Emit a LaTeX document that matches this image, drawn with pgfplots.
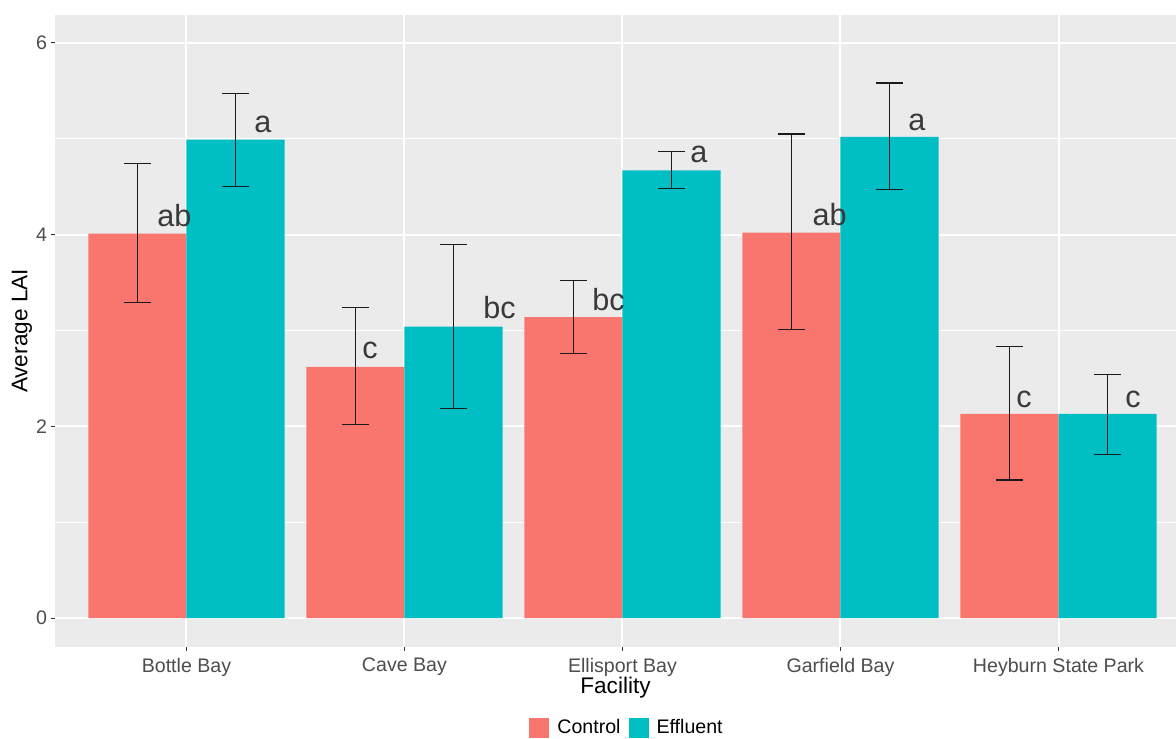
\documentclass[border=0pt]{standalone}
\usepackage{fontspec}
\setmainfont{Liberation Sans}
\usepackage{pgfplots}
\pgfplotsset{compat=1.18}
\usepackage{pgfplotstable}
\usetikzlibrary{calc}

\definecolor{ctrl}{HTML}{F8766D}
\definecolor{effl}{HTML}{00BFC4}
\definecolor{panel}{HTML}{EBEBEB}
\definecolor{gray30}{HTML}{4D4D4D}
\definecolor{gray20}{HTML}{333333}
\definecolor{lettergray}{HTML}{3A3A3A}
\definecolor{errcol}{HTML}{1A1A1A}

% mean LAI with upper / lower error lengths
\pgfplotstableread{
x y ep em
1 4.01 0.73 0.72
2 2.62 0.62 0.60
3 3.14 0.38 0.38
4 4.02 1.03 1.01
5 2.13 0.70 0.69
}\control
\pgfplotstableread{
x y ep em
1 4.99 0.48 0.49
2 3.04 0.86 0.85
3 4.67 0.20 0.19
4 5.02 0.56 0.55
5 2.13 0.41 0.42
}\effluent
% significance letters (left edge, baseline)
\pgfplotstableread{
x y lab
0.865 4.08 ab
1.310 5.06 a
1.805 2.71 c
2.360 3.12 bc
2.860 3.21 bc
3.310 4.75 a
3.870 4.10 ab
4.310 5.09 a
4.805 2.20 c
5.305 2.20 c
}\letters

\begin{document}
\begin{tikzpicture}
\begin{axis}[
  name=ax,
  scale only axis,
  width=560.5pt, height=316pt,
  xmin=0.397, xmax=5.539,
  ymin=-0.30, ymax=6.29,
  axis background/.style={fill=panel},
  axis line style={draw=none},
  xtick={1,2,3,4,5},
  xticklabels={Bottle Bay, Cave Bay, Ellisport Bay, Garfield Bay, Heyburn State Park},
  ytick={0,2,4,6},
  minor ytick={1,3,5},
  grid=both,
  major grid style={white, line width=1pt},
  minor grid style={white, line width=0.5pt},
  minor tick length=0pt,
  tick align=outside,
  xtick pos=bottom, ytick pos=left,
  major tick length=1.8pt,
  tick style={gray20, line width=0.5pt},
  /pgf/number format/assume math mode=true,
  ticklabel style={font=\fontsize{9.8}{11}\selectfont, text=gray30, inner sep=0pt},
  xticklabel style={yshift=-3.5pt},
  yticklabel style={xshift=-2pt},
  xlabel={Facility},
  ylabel={Average LAI},
  every axis x label/.style={at={(axis description cs:0.5,0)}, anchor=north,
    inner sep=0pt, yshift=-15pt, font=\fontsize{11.3}{13}\selectfont},
  every axis y label/.style={at={(axis description cs:0,0.5)}, anchor=center,
    rotate=90, inner sep=0pt, yshift=16.5pt, font=\fontsize{11.3}{13}\selectfont},
  legend columns=2,
  legend style={at={(0.4228,-0.128)}, anchor=west, draw=none, fill=none,
    inner sep=0pt, column sep=4pt,
    font=\fontsize{9.8}{11}\selectfont,
    nodes={inner sep=0pt}},
  legend image code/.code={\fill[#1] (0pt,-5pt) rectangle (10pt,5pt);},
]
\addplot[ybar, bar width=0.45, bar shift=0, fill=ctrl, draw=none,
  error bars/.cd, y dir=both, y explicit,
  error bar style={line width=0.65pt, errcol},
  error mark options={rotate=90, mark size=6.75pt, line width=0.65pt, errcol}]
  table[x expr=\thisrow{x}-0.225, y=y, y error plus=ep, y error minus=em] {\control};
\addlegendentry{Control}
\addplot[ybar, bar width=0.45, bar shift=0, fill=effl, draw=none,
  error bars/.cd, y dir=both, y explicit,
  error bar style={line width=0.65pt, errcol},
  error mark options={rotate=90, mark size=6.75pt, line width=0.65pt, errcol}]
  table[x expr=\thisrow{x}+0.225, y=y, y error plus=ep, y error minus=em] {\effluent};
\addlegendentry{Effluent}
\addplot[draw=none, mark=none, forget plot,
  nodes near coords, point meta=explicit symbolic,
  nodes near coords style={anchor=base west, inner sep=0pt,
    font=\fontsize{15.3}{17}\selectfont, text=lettergray}]
  table[x=x, y=y, meta=lab] {\letters};
\end{axis}
\pgfresetboundingbox
\path[use as bounding box] ($(ax.south west)+(-27.5pt,-46pt)$) rectangle ($(ax.north east)+(0,7.5pt)$);
\end{tikzpicture}
\end{document}
